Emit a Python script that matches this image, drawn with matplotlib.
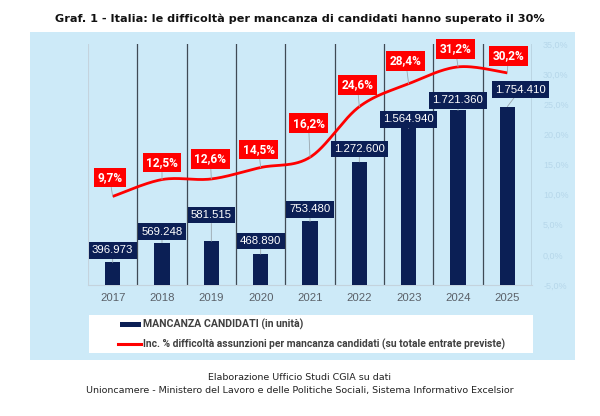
import numpy as np
import matplotlib
matplotlib.use("Agg")
import matplotlib.pyplot as plt
from matplotlib import font_manager as fm
from matplotlib.patches import Rectangle
from matplotlib.lines import Line2D

# ---------------- data ----------------
years = ["2017", "2018", "2019", "2020", "2021", "2022", "2023", "2024", "2025"]
candidati = [396973, 569248, 581515, 468890, 753480, 1272600, 1564940, 1721360, 1754410]
incidenza = [9.7, 12.5, 12.6, 14.5, 16.2, 24.6, 28.4, 31.2, 30.2]
bar_labels = ["396.973", "569.248", "581.515", "468.890", "753.480",
              "1.272.600", "1.564.940", "1.721.360", "1.754.410"]
pct_labels = ["9,7%", "12,5%", "12,6%", "14,5%", "16,2%", "24,6%", "28,4%", "31,2%", "30,2%"]
right_ticks = [-5, 0, 5, 10, 15, 20, 25, 30, 35]
right_tick_labels = ["-5,0%", "0,0%", "5,0%", "10,0%", "15,0%", "20,0%", "25,0%", "30,0%", "35,0%"]

# label offsets (pixels) – layout only
bar_label_off = [(0, 12), (0, 11), (0, 26), (0, 13), (0, 12), (0, 13), (0, 9), (0, 10), (13, 17)]
pct_label_off = [(-3, 19), (0, 17), (-1, 20), (-2, 18), (-1.5, 34), (-2, 22), (-3, 23), (-2.5, 18), (1, 17)]

# ---------------- fonts ----------------
def has_font(name):
    try:
        fm.findfont(fm.FontProperties(family=name), fallback_to_default=False)
        return True
    except Exception:
        return False

NARROW = "Liberation Sans Narrow" if has_font("Liberation Sans Narrow") else "Roboto"
SANS = "Liberation Sans"

NAVY = "#0b1f55"
RED = "#ff0000"
BG = "#cdeaf8"

W, H = 600, 416
fig = plt.figure(figsize=(6.0, 4.16), dpi=100)
fig.patch.set_facecolor("white")

def fx(px):
    return px / W

def fy(py):
    return 1 - py / H

# light-blue panel
fig.patches.append(Rectangle((fx(30), fy(360)), fx(575) - fx(30), fy(32) - fy(360),
                             transform=fig.transFigure, facecolor=BG, edgecolor="none", zorder=-10))

ax = fig.add_axes([fx(88), fy(285), fx(532) - fx(88), fy(44) - fy(285)])
ax.set_facecolor("none")
ax.set_zorder(1)
ax2 = ax.twinx()
ax2.set_facecolor("none")
ax2.set_zorder(2)

x = np.arange(len(years))

# bars
ax.bar(x, candidati, width=0.31, color=NAVY, zorder=3)
ax.set_ylim(200000, 2300000)
ax.set_xlim(-0.5, len(years) - 0.5)
ax.set_yticks([])
ax.set_xticks(x)
ax.set_xticklabels(years, fontsize=8.2, color="#5a6068", family=SANS)
ax.tick_params(axis="x", length=0, pad=6)

for s in ["top", "left", "right"]:
    ax.spines[s].set_visible(False)
    ax2.spines[s].set_visible(False)
ax.spines["bottom"].set_color("#c4d3dd")
ax.spines["bottom"].set_linewidth(0.8)
ax2.spines["bottom"].set_visible(False)

# vertical separators
for i, b in enumerate(np.arange(-0.5, len(years), 1.0)):
    ax.axvline(b, color="#c4d3dd" if i == 0 else "#3f4a55", lw=0.8 if i == 0 else 0.9, zorder=1)

# smoothed line (Bezier smoothing as in spreadsheet charts)
def smooth(xs, ys, n=30):
    P = np.column_stack([xs, ys]).astype(float)
    out = []
    for i in range(len(P) - 1):
        p0 = P[i - 1] if i > 0 else P[i]
        p1 = P[i]
        p2 = P[i + 1]
        p3 = P[i + 2] if i + 2 < len(P) else P[i + 1]
        c1 = p1 + (p2 - p0) / 6.0
        c2 = p2 - (p3 - p1) / 6.0
        t = np.linspace(0, 1, n)[:, None]
        seg = ((1 - t) ** 3) * p1 + 3 * ((1 - t) ** 2) * t * c1 + 3 * (1 - t) * t ** 2 * c2 + t ** 3 * p2
        out.append(seg if i == 0 else seg[1:])
    S = np.vstack(out)
    return S[:, 0], S[:, 1]

sx, sy = smooth(x, incidenza)
ax2.plot(sx, sy, color=RED, lw=2.0, zorder=4, solid_capstyle="butt")
ax2.set_ylim(-5, 35)
ax2.set_yticks(right_ticks)
ax2.set_yticklabels(right_tick_labels, fontsize=6.5, color="#b6d7ea", family=SANS)
ax2.tick_params(axis="y", length=0, pad=8)

# bar value labels
for i in range(len(years)):
    dx, dy = bar_label_off[i]
    ax2.annotate(bar_labels[i], xy=(x[i], candidati[i]), xycoords=ax.transData,
                 xytext=(dx, dy), textcoords="offset pixels",
                 ha="center", va="center", fontsize=8.2, color="white", family=SANS,
                 bbox=dict(boxstyle="square,pad=0.28", facecolor=NAVY, edgecolor="none"),
                 arrowprops=dict(arrowstyle="-", color="#9aa5ad", lw=0.6, shrinkA=0, shrinkB=0),
                 zorder=6, annotation_clip=False)

# percentage labels
for i in range(len(years)):
    dx, dy = pct_label_off[i]
    ax2.annotate(pct_labels[i], xy=(x[i], incidenza[i]), xytext=(dx, dy), textcoords="offset pixels",
                 ha="center", va="center", fontsize=8.6, color="white", fontweight="bold", family=NARROW,
                 bbox=dict(boxstyle="square,pad=0.28", facecolor=RED, edgecolor="none"),
                 arrowprops=dict(arrowstyle="-", color="#9aa5ad", lw=0.6, shrinkA=0, shrinkB=0),
                 zorder=7, annotation_clip=False)

# legend (manual box)
fig.patches.append(Rectangle((fx(89), fy(353)), fx(533) - fx(89), fy(315) - fy(353),
                             transform=fig.transFigure, facecolor="white", edgecolor="none", zorder=-5))
fig.patches.append(Rectangle((fx(120), fy(326.5)), fx(141) - fx(120), fy(322) - fy(326.5),
                             transform=fig.transFigure, facecolor=NAVY, edgecolor="none", zorder=-4))
fig.lines.append(Line2D([fx(118), fx(141)], [fy(344), fy(344)], transform=fig.transFigure,
                        color=RED, lw=2.2, zorder=-4))
fig.text(fx(143), fy(324.5), "MANCANZA CANDIDATI (in unità)", fontsize=7.6, fontweight="bold",
         color="#404040", family=NARROW, va="center", ha="left")
fig.text(fx(143), fy(344), "Inc. % difficoltà assunzioni per mancanza candidati (su totale entrate previste)",
         fontsize=7.4, fontweight="bold", color="#404040", family=NARROW, va="center", ha="left")

# title and source
fig.text(0.5, fy(19), "Graf. 1 - Italia: le difficoltà per mancanza di candidati hanno superato il 30%",
         ha="center", va="center", fontsize=8.1, fontweight="bold", family="DejaVu Sans", color="#111111")
fig.text(0.5, fy(377), "Elaborazione Ufficio Studi CGIA su dati", ha="center", va="center",
         fontsize=6.8, family="DejaVu Sans", color="#222222")
fig.text(0.5, fy(390), "Unioncamere - Ministero del Lavoro e delle Politiche Sociali, Sistema Informativo Excelsior",
         ha="center", va="center", fontsize=6.8, family="DejaVu Sans", color="#222222")

fig.savefig("out.png", dpi=100, facecolor="white")
